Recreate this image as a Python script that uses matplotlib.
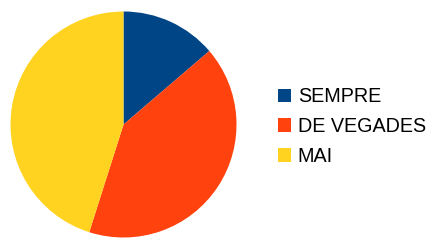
import matplotlib.pyplot as plt

labels = ["SEMPRE", "DE VEGADES", "MAI"]
counts = [7, 21, 23]
colors = ["#004586", "#ff420e", "#ffd320"]

plt.rcParams['font.family'] = ['Liberation Sans', 'DejaVu Sans']

fig = plt.figure(figsize=(4.36, 2.41), dpi=100)
ax = fig.add_axes([10.5 / 436, 3.5 / 241, 226 / 436, 226 / 241])
wedges, _ = ax.pie(counts, colors=colors, startangle=90, counterclock=False,
                   radius=1, wedgeprops=dict(linewidth=0))
ax.set_xlim(-1, 1)
ax.set_ylim(-1, 1)
ax.set_aspect('equal')

fig.legend(wedges, labels, loc='center left', bbox_to_anchor=(278 / 436, 1 - 126.5 / 241),
           frameon=False, fontsize=14.2, handlelength=0.65, handleheight=0.65,
           handletextpad=0.35, labelspacing=0.55, borderpad=0, borderaxespad=0)

fig.savefig("out.png", dpi=100)
